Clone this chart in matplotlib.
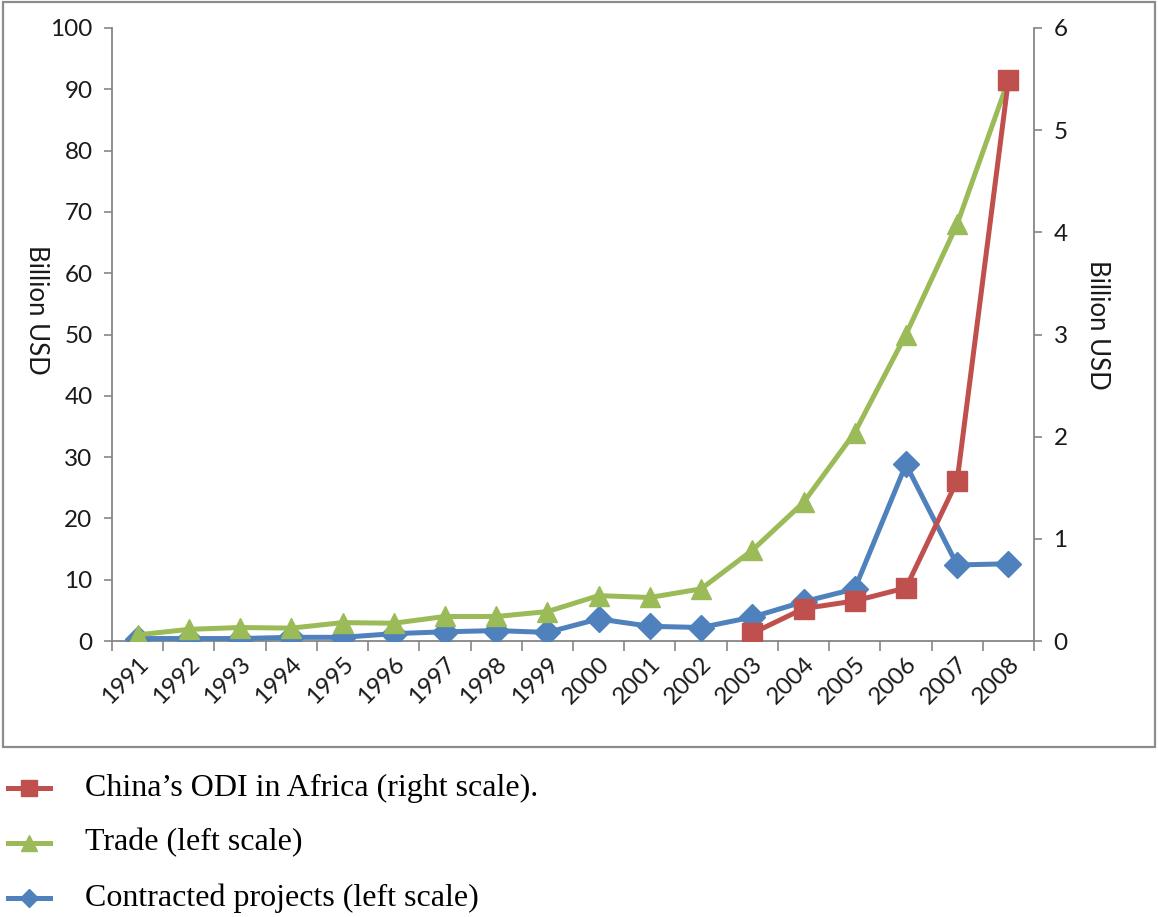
import matplotlib
matplotlib.use("Agg")
import matplotlib.pyplot as plt
from matplotlib.lines import Line2D
from matplotlib.patches import Rectangle
import numpy as np

years = ["1991", "1992", "1993", "1994", "1995", "1996", "1997", "1998", "1999",
         "2000", "2001", "2002", "2003", "2004", "2005", "2006", "2007", "2008"]
trade = [1.0, 1.9, 2.2, 2.1, 3.0, 2.9, 4.0, 4.0, 4.8,
         7.4, 7.1, 8.5, 14.8, 22.6, 34.0, 50.0, 68.0, 91.5]
contracted = [0.4, 0.4, 0.4, 0.6, 0.6, 1.2, 1.5, 1.7, 1.4,
              3.6, 2.4, 2.2, 3.9, 6.4, 8.5, 28.8, 12.4, 12.6]
odi_years = ["2003", "2004", "2005", "2006", "2007", "2008"]
odi = [0.075, 0.317, 0.392, 0.52, 1.57, 5.49]

RED = "#C0504D"
GREEN = "#9BBB59"
BLUE = "#4F81BD"
AXCOL = "#868686"
TXT = "#1a1a1a"
FS = 17.5

W, H = 1158, 917
fig = plt.figure(figsize=(W / 100, H / 100), dpi=100)

# outer chart border
fig.add_artist(Rectangle((3 / W, 1 - 747 / H), (1155 - 3) / W, (747 - 2) / H,
                         transform=fig.transFigure, fill=False,
                         edgecolor="#8c8c8c", linewidth=1.6))

ax = fig.add_axes([112 / W, 1 - 641 / H, (1034 - 112) / W, (641 - 28) / H])
ax2 = ax.twinx()

x = np.arange(len(years))
xo = np.array([years.index(y) for y in odi_years])

ax.plot(x, contracted, color=BLUE, lw=3.6, marker="D", ms=13, zorder=3)
ax.plot(x, trade, color=GREEN, lw=3.6, marker="^", ms=15, zorder=4)
ax2.plot(xo, odi, color=RED, lw=3.6, marker="s", ms=14, zorder=5)

ax.set_xlim(-0.5, len(years) - 0.5)
ax.set_ylim(0, 100)
ax2.set_ylim(0, 6)
ax.set_yticks(np.arange(0, 101, 10))
ax2.set_yticks(np.arange(0, 7, 1))

ax.set_xticks(np.arange(-0.5, len(years), 1.0))
ax.set_xticklabels([])
ax.set_xticks(x, minor=True)
ax.set_xticklabels(years, minor=True, rotation=45, ha="right", va="top",
                   rotation_mode="anchor")

for lab in ax.get_xticklabels(minor=True) + ax.get_yticklabels() + ax2.get_yticklabels():
    lab.set_fontfamily("Lato")
    lab.set_fontsize(FS)
    lab.set_color(TXT)

ax.tick_params(axis="x", which="major", length=7, direction="out", color=AXCOL, width=1.2)
ax.tick_params(axis="x", which="minor", length=0, pad=9)
ax.tick_params(axis="y", length=6, direction="out", color=AXCOL, width=1.2, pad=8)
ax2.tick_params(axis="y", length=6, direction="out", color=AXCOL, width=1.2, pad=8)

for a in (ax, ax2):
    a.spines["top"].set_visible(False)
    for s in ("left", "right", "bottom"):
        a.spines[s].set_color(AXCOL)
        a.spines[s].set_linewidth(1.3)
ax.spines["right"].set_visible(False)
ax2.spines["left"].set_visible(False)
ax2.spines["bottom"].set_visible(False)
ax2.patch.set_visible(False)

fig.text(36 / W, 1 - 310 / H, "Billion USD", rotation=-90, ha="center", va="center",
         family="Lato", fontsize=18.5, color=TXT)
fig.text(1098 / W, 1 - 325 / H, "Billion USD", rotation=-90, ha="center", va="center",
         family="Lato", fontsize=18.5, color=TXT)

# legend below the chart
entries = [("China\u2019s ODI in Africa (right scale).", RED, "s", 11),
           ("Trade (left scale)", GREEN, "^", 12),
           ("Contracted projects (left scale)", BLUE, "D", 9)]
ys = [788, 843, 898]
for (lab, col, mk, ms), yy in zip(entries, ys):
    yf = 1 - yy / H
    fig.add_artist(Line2D([8 / W, 50 / W], [yf, yf], transform=fig.transFigure,
                          color=col, lw=3.6))
    fig.add_artist(Line2D([29 / W], [yf], transform=fig.transFigure,
                          color=col, marker=mk, ms=ms, lw=0))
    fig.text(85 / W, yf, lab, ha="left", va="center", family="Liberation Serif",
             fontsize=23, color="black")

fig.savefig("out.png", dpi=100)
